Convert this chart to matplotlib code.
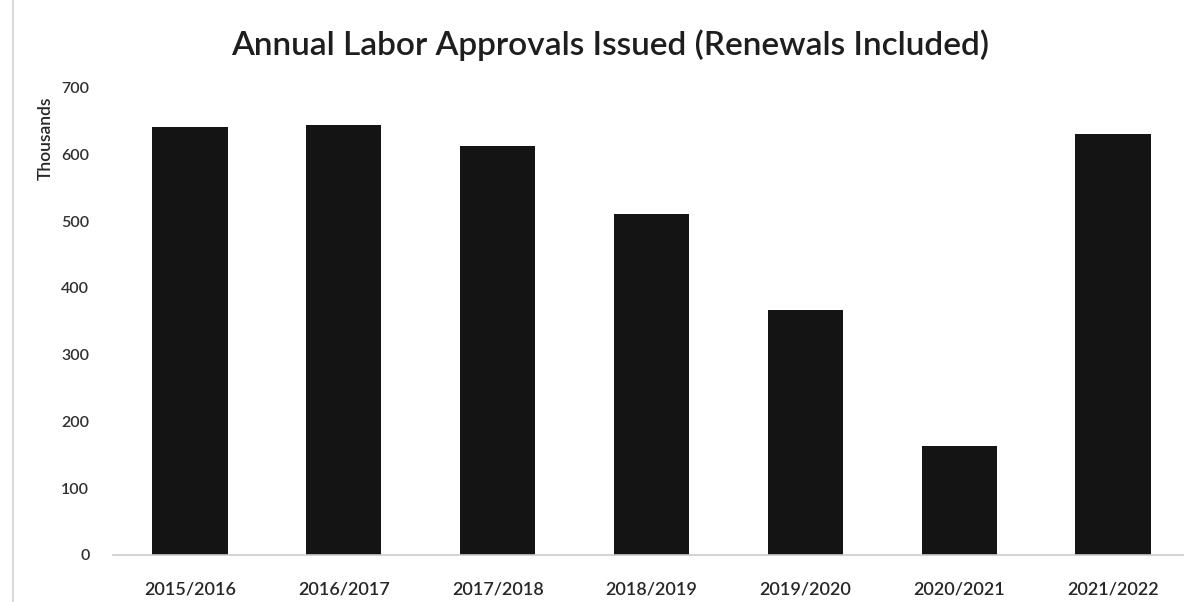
import matplotlib
matplotlib.use("Agg")
import matplotlib.pyplot as plt
from matplotlib.lines import Line2D

# Annual labor approvals, in thousands
years = ['2015/2016', '2016/2017', '2017/2018', '2018/2019',
         '2019/2020', '2020/2021', '2021/2022']
approvals = [641, 644, 612, 510, 367, 163, 630]
yticks = [0, 100, 200, 300, 400, 500, 600, 700]

plt.rcParams['font.family'] = ['Lato', 'DejaVu Sans']

fig = plt.figure(figsize=(11.84, 6.02), dpi=100)
ax = fig.add_axes([113 / 1184, 1 - 555 / 602, 1077 / 1184, 467.5 / 602])

x = list(range(len(years)))
ax.bar(x, approvals, width=0.49, color='#141414')

ax.set_xlim(-0.5, 6.5)
ax.set_ylim(0, 700)
ax.set_yticks(yticks)
ax.set_yticklabels([str(v) for v in yticks], fontsize=11.5, color='#303030',
                   fontweight='semibold')
ax.set_xticks(x)
ax.set_xticklabels(years, fontsize=13, color='#262626', fontweight='semibold')
ax.tick_params(axis='both', length=0)
ax.tick_params(axis='y', pad=17)
ax.tick_params(axis='x', pad=19)

for side in ['top', 'right', 'left']:
    ax.spines[side].set_visible(False)
ax.spines['bottom'].set_color('#cccccc')
ax.spines['bottom'].set_linewidth(1.2)

fig.text(46 / 1184, 1 - 138 / 602, 'Thousands', rotation=90, fontsize=12.5,
         color='#262626', ha='center', va='center', fontweight='semibold')
fig.text(610 / 1184, 1 - 45 / 602, 'Annual Labor Approvals Issued (Renewals Included)',
         fontsize=24, color='#1e1e1e', ha='center', va='center', fontweight='semibold')

# thin frame edge on the left
fig.add_artist(Line2D([13 / 1184, 13 / 1184], [0, 1], color='#d8d8d8', lw=1.5))

fig.savefig('out.png', dpi=100)
